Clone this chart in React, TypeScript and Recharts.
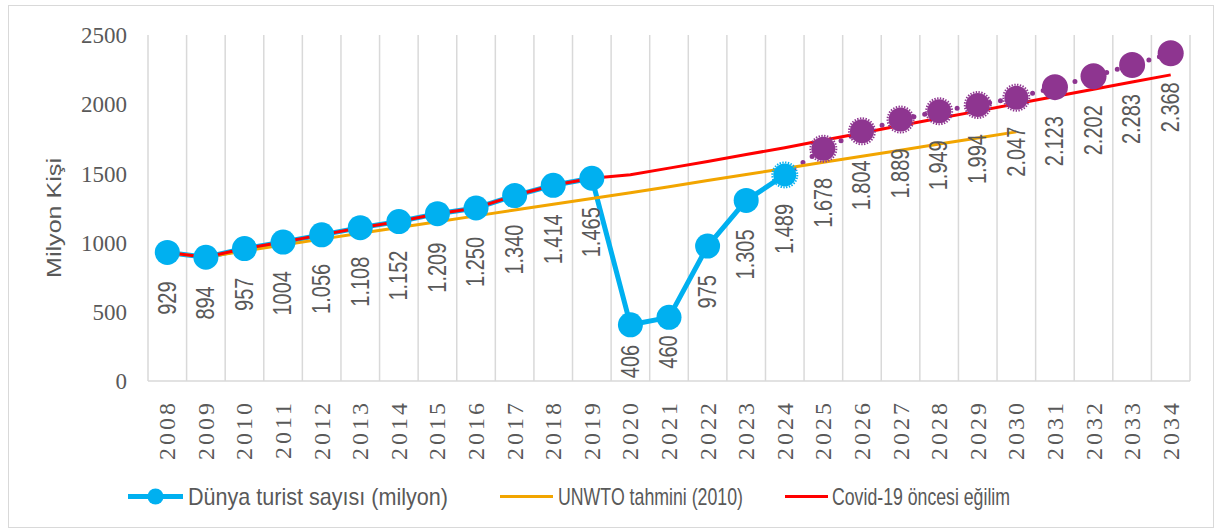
import React from 'react';
import { ComposedChart, Line, XAxis, YAxis, CartesianGrid } from 'recharts';

// ---------- data ----------
const years = ['2008','2009','2010','2011','2012','2013','2014','2015','2016','2017','2018','2019','2020','2021','2022','2023','2024','2025','2026','2027','2028','2029','2030','2031','2032','2033','2034'];

const touristActual = [929, 894, 957, 1004, 1056, 1108, 1152, 1209, 1250, 1340, 1414, 1465, 406, 460, 975, 1305, 1489, null, null, null, null, null, null, null, null, null, null];
const touristActualLabels = ['929','894','957','1004','1.056','1.108','1.152','1.209','1.250','1.340','1.414','1.465','406','460','975','1.305','1.489','','','','','','','','','',''];

const touristProjection = [null, null, null, null, null, null, null, null, null, null, null, null, null, null, null, null, 1489, 1678, 1804, 1889, 1949, 1994, 2047, 2123, 2202, 2283, 2368];
const touristProjectionLabels = ['','','','','','','','','','','','','','','','','','1.678','1.804','1.889','1.949','1.994','2.047','2.123','2.202','2.283','2.368'];

const unwtoForecast = [929, 894, 940, 983, 1025, 1067, 1109, 1151, 1193, 1235, 1277, 1319, 1360, 1404, 1448, 1492, 1536, 1580, 1624, 1668, 1712, 1756, 1800, null, null, null, null];

const preCovidTrend = [929, 894, 957, 1004, 1056, 1108, 1152, 1209, 1250, 1340, 1414, 1465, 1490, 1538, 1586, 1636, 1686, 1740, 1792, 1846, 1898, 1950, 2003, 2056, 2108, 2160, 2212];

const yTicks = [0, 500, 1000, 1500, 2000, 2500];

const seriesNames = ['Dünya turist sayısı (milyon)', 'UNWTO tahmini (2010)', 'Covid-19 öncesi eğilim'];
const yAxisTitle = 'Milyon Kişi';

// ---------- styles ----------
const W = 1219;
const H = 531;
const PLOT_LEFT = 148;
const PLOT_RIGHT = 1190;
const PLOT_TOP = 35;
const PLOT_BOTTOM = 381;
const Y_AXIS_W = 100;
const X_AXIS_H = 100;

const BLUE = '#00B0F0';
const PURPLE = '#8E3590';
const ORANGE = '#F2A500';
const RED = '#FF0000';
const GRID = '#D9D9D9';
const TEXT = '#595959';
const SERIF = "'Liberation Serif', 'Times New Roman', serif";
const SANS = "'Liberation Sans', Arial, sans-serif";

const dashedMarkerYears = new Set(['2024', '2025', '2026', '2027', '2028', '2029', '2030']);
const labelGapOverride: Record<string, number> = { '2020': 20, '2021': 18 };
const LABEL_GAP = 29;

const data = years.map((year, i) => ({
  year,
  actual: touristActual[i],
  projection: touristProjection[i],
  unwto: unwtoForecast[i],
  trend: preCovidTrend[i],
}));

const makeDot = (color: string, labels: string[], r: number, skipYear?: string) => (props: any) => {
  const { cx, cy, index, payload, value } = props;
  const key = `dot-${color}-${index}`;
  if (cx == null || cy == null || value == null || payload?.year === skipYear) return <g key={key} />;
  const dashed = dashedMarkerYears.has(payload.year);
  const label = labels[index];
  const gap = labelGapOverride[payload.year] ?? LABEL_GAP;
  return (
    <g key={key}>
      {dashed ? (
        <>
          <circle cx={cx} cy={cy} r={r - 1} fill={color} />
          <circle cx={cx} cy={cy} r={r} fill="none" stroke={color} strokeWidth={2} strokeDasharray="1.4 1.4" />
        </>
      ) : (
        <circle cx={cx} cy={cy} r={r} fill={color} />
      )}
      {label ? (
        <text
          x={0}
          y={0}
          transform={`translate(${cx}, ${cy + gap}) rotate(-90) scale(0.8, 1)`}
          textAnchor="end"
          dominantBaseline="central"
          fontFamily={SANS}
          fontSize={25}
          fill={TEXT}
        >
          {label}
        </text>
      ) : null}
    </g>
  );
};

const XTick = (props: any) => {
  const { x, payload } = props;
  const y = PLOT_BOTTOM + 19;
  return (
    <text
      x={x}
      y={y}
      transform={`rotate(-90, ${x}, ${y})`}
      textAnchor="end"
      dominantBaseline="central"
      fontFamily={SERIF}
      fontSize={24}
      letterSpacing={3}
      fill={TEXT}
    >
      {payload.value}
    </text>
  );
};

export default function App() {
  const nCat = years.length;
  return (
    <div style={{ position: 'absolute', left: 0, top: 0, width: W, height: H, background: '#fff' }}>
      <div style={{ position: 'absolute', left: 8, top: 5, width: 1204, height: 521, border: `1.5px solid ${GRID}` }} />
      <div style={{ position: 'absolute', left: 0, top: 0 }}>
        <ComposedChart
          width={W}
          height={H}
          data={data}
          margin={{ top: PLOT_TOP, right: W - PLOT_RIGHT, left: PLOT_LEFT - Y_AXIS_W, bottom: H - PLOT_BOTTOM - X_AXIS_H }}
        >
          <CartesianGrid
            horizontal={false}
            stroke={GRID}
            strokeWidth={1.5}
            verticalCoordinatesGenerator={({ offset }: any) =>
              Array.from({ length: nCat + 1 }, (_, i) => offset.left + (i * offset.width) / nCat)
            }
          />
          <XAxis
            dataKey="year"
            scale="band"
            interval={0}
            height={X_AXIS_H}
            tickLine={false}
            axisLine={{ stroke: GRID, strokeWidth: 1.5 }}
            tick={<XTick />}
          />
          <YAxis
            domain={[0, 2500]}
            ticks={yTicks}
            interval={0}
            width={Y_AXIS_W}
            axisLine={false}
            tickLine={false}
            tickSize={6}
            tickMargin={15}
            tick={{ fontFamily: SERIF, fontSize: 23, fill: TEXT }}
          />
          <Line
            dataKey="actual"
            stroke={BLUE}
            strokeWidth={5}
            isAnimationActive={false}
            connectNulls={false}
            dot={makeDot(BLUE, touristActualLabels, 12.5)}
            activeDot={false}
          />
          <Line
            dataKey="projection"
            stroke={PURPLE}
            strokeWidth={5}
            strokeDasharray="0 11"
            strokeLinecap="round"
            isAnimationActive={false}
            dot={makeDot(PURPLE, touristProjectionLabels, 13, '2024')}
            activeDot={false}
          />
          <Line dataKey="unwto" stroke={ORANGE} strokeWidth={3} dot={false} activeDot={false} isAnimationActive={false} />
          <Line dataKey="trend" stroke={RED} strokeWidth={3} dot={false} activeDot={false} isAnimationActive={false} />
        </ComposedChart>
      </div>
      <svg width={W} height={H} style={{ position: 'absolute', left: 0, top: 0, pointerEvents: 'none' }}>
        <text
          transform="translate(61, 218) rotate(-90)"
          textAnchor="middle"
          fontFamily={SANS}
          fontSize={21}
          fill={TEXT}
          textLength={120}
          lengthAdjust="spacingAndGlyphs"
        >
          {yAxisTitle}
        </text>
        {/* legend */}
        <line x1={128} y1={496.5} x2={183} y2={496.5} stroke={BLUE} strokeWidth={5} />
        <circle cx={155.5} cy={496.5} r={8} fill={BLUE} />
        <text x={188} y={505} fontFamily={SANS} fontSize={24} fill={TEXT} textLength={260} lengthAdjust="spacingAndGlyphs">
          {seriesNames[0]}
        </text>
        <line x1={500} y1={496.5} x2={553} y2={496.5} stroke={ORANGE} strokeWidth={3} />
        <text x={558} y={505} fontFamily={SANS} fontSize={24} fill={TEXT} textLength={185} lengthAdjust="spacingAndGlyphs">
          {seriesNames[1]}
        </text>
        <line x1={785} y1={496.5} x2={828} y2={496.5} stroke={RED} strokeWidth={3} />
        <text x={832} y={505} fontFamily={SANS} fontSize={24} fill={TEXT} textLength={178} lengthAdjust="spacingAndGlyphs">
          {seriesNames[2]}
        </text>
      </svg>
    </div>
  );
}
